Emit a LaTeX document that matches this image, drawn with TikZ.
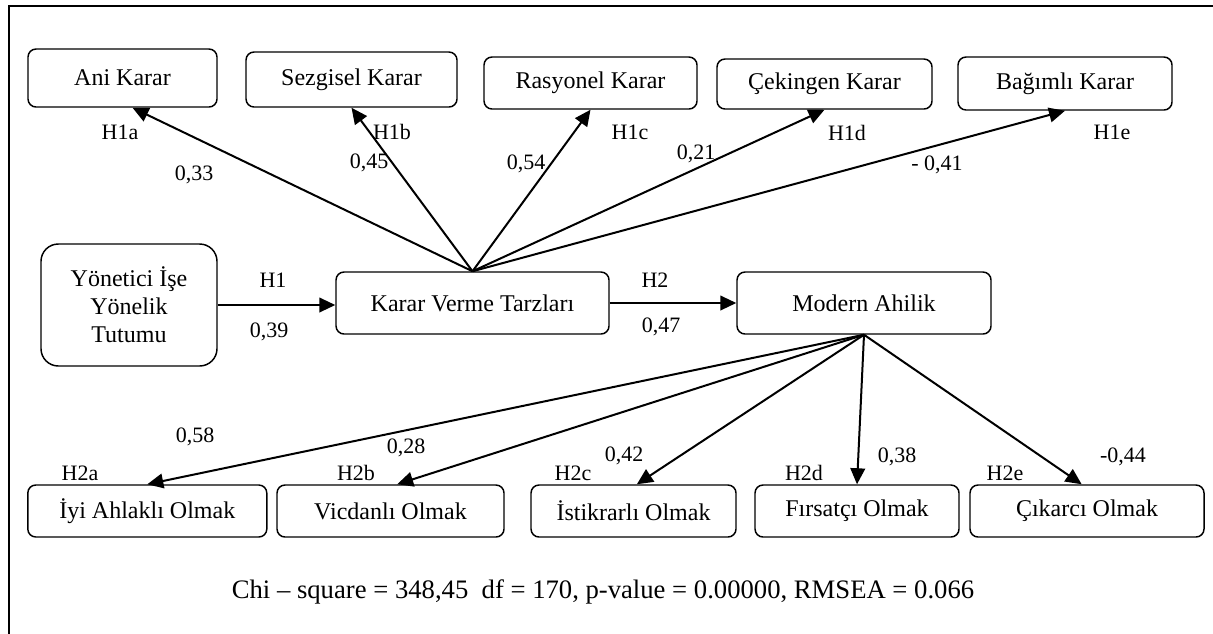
\documentclass[tikz,border=0pt]{standalone}
\usepackage{fontspec}
\setmainfont{Liberation Serif}
\usetikzlibrary{arrows.meta}
\tikzset{
	box/.style={draw, line width=1.1pt, rounded corners=6pt, inner sep=0pt, align=center, font=\fontsize{18}{21}\selectfont},
	lbl/.style={inner sep=0.75pt, font=\fontsize{16.5}{19}\selectfont},
	arr/.style={line width=1.5pt, -{Triangle[length=12pt,width=11pt]}}
}
\begin{document}
\begin{tikzpicture}[x=0.75pt,y=0.75pt,yscale=-1,xscale=1]
	\useasboundingbox (0,0) rectangle (1213,633);
	\draw [line width=1.1pt] (9,650) -- (9,6) -- (1230,6);

	\node [box, minimum width=141.75pt, minimum height=43.5pt] (ani) at (122.5,78) {Ani Karar};
	\node [box, minimum width=158.25pt, minimum height=41.25pt] (sez) at (351.5,79.5) {Sezgisel Karar};
	\node [box, minimum width=159.75pt, minimum height=39pt] (ras) at (590.5,83) {Rasyonel Karar};
	\node [box, minimum width=161.25pt, minimum height=37.5pt] (cek) at (824.5,84) {Çekingen Karar};
	\node [box, minimum width=160.5pt, minimum height=39.75pt] (bag) at (1065,83.5) {Bağımlı Karar};
	\node [box, rounded corners=13pt, minimum width=132pt, minimum height=91.5pt] (yon) at (129,305) {Yönetici İşe\\Yönelik\\Tutumu};
	\node [box, minimum width=204.75pt, minimum height=46.5pt] (kvt) at (472.5,303) {Karar Verme Tarzları};
	\node [box, minimum width=190.5pt, minimum height=46.5pt] (mah) at (864,303) {Modern Ahilik};
	\node [box, minimum width=179.25pt, minimum height=39pt] (iyi) at (147.3,511) {İyi Ahlaklı Olmak};
	\node [box, minimum width=170.25pt, minimum height=39pt] (vic) at (390.5,511) {Vicdanlı Olmak};
	\node [box, minimum width=153.75pt, minimum height=39pt] (ist) at (633.5,511) {İstikrarlı Olmak};
	\node [box, minimum width=153pt, minimum height=39pt] (fir) at (857,511) {Fırsatçı Olmak};
	\node [box, minimum width=175.5pt, minimum height=39pt] (cik) at (1087,511) {Çıkarcı Olmak};

	\draw [arr] (kvt.north) -- ([xshift=7.5pt]ani.south);
	\draw [arr] (kvt.north) -- (sez.south);
	\draw [arr] (kvt.north) -- (ras.south);
	\draw [arr] (kvt.north) -- (cek.south);
	\draw [arr] (kvt.north) -- (bag.south);
	\draw [arr] (yon.east) -- (yon.east -| kvt.west);
	\draw [arr] (kvt.east) -- (mah.west);
	\draw [arr] (mah.south) -- (iyi.north);
	\draw [arr] (mah.south) -- ([xshift=5pt]vic.north);
	\draw [arr] (mah.south) -- ([xshift=2.5pt]ist.north);
	\draw [arr] (mah.south) -- (fir.north);
	\draw [arr] (mah.south) -- ([xshift=-4pt]cik.north);

	\node [lbl] (h1a) at (120,132) {H1a};
	\node [lbl] (h1b) at (392,132) {H1b};
	\node [lbl] (h1c) at (630,132) {H1c};
	\node [lbl] (h1d) at (847,133) {H1d};
	\node [lbl] (h1e) at (1112,132) {H1e};
	\node [lbl] (k1a) at (194,175) {0,33};
	\node [lbl] (k1b) at (369,163) {0,45};
	\node [lbl] (k1c) at (526,164) {0,54};
	\node [lbl] (k1d) at (696,154) {0,21};
	\node [lbl] (k1e) at (937,165) {- 0,41};
	\node [lbl] (h1) at (273,280) {H1};
	\node [lbl] (k1) at (269,332) {0,39};
	\node [lbl] (h2) at (655,280) {H2};
	\node [lbl] (k2) at (661,327) {0,47};
	\node [lbl] (h2a) at (80,473) {H2a};
	\node [lbl] (h2b) at (356,473) {H2b};
	\node [lbl] (h2c) at (573,473) {H2c};
	\node [lbl] (h2d) at (804,473) {H2d};
	\node [lbl] (h2e) at (1005,473) {H2e};
	\node [lbl] (k2a) at (195,437) {0,58};
	\node [lbl] (k2b) at (406,448) {0,28};
	\node [lbl] (k2c) at (624,456) {0,42};
	\node [lbl] (k2d) at (897,457) {0,38};
	\node [lbl] (k2e) at (1123,457) {-0,44};

	\node [font=\fontsize{20}{24}\selectfont, inner sep=0.75pt] (fit) at (603,592) {Chi – square = 348,45\ \ df = 170, p-value = 0.00000, RMSEA = 0.066};
\end{tikzpicture}
\end{document}
